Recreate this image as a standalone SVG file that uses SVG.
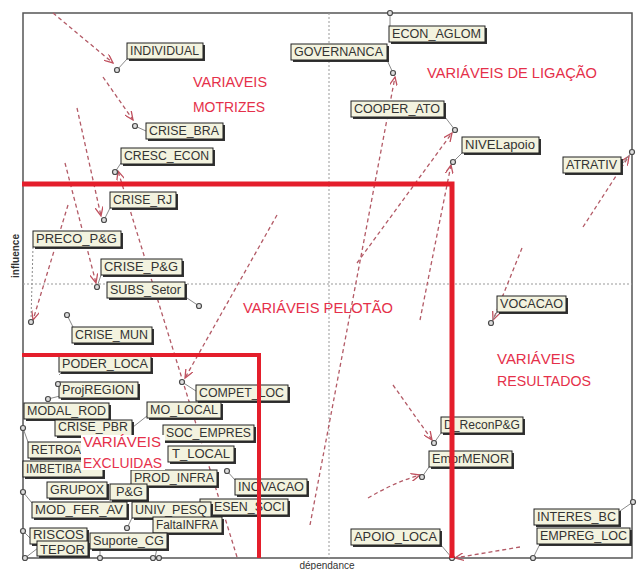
<svg xmlns="http://www.w3.org/2000/svg" width="640" height="570" viewBox="0 0 640 570">
<defs>
<marker id="arr" viewBox="0 0 10 8" refX="9" refY="4" markerWidth="10" markerHeight="8" markerUnits="userSpaceOnUse" orient="auto">
<path d="M0,0 L9,4 L0,8" fill="none" stroke="#c0505e" stroke-width="1.3"/>
</marker>
<style>
.frame{fill:none;stroke:#555;stroke-width:1.5}
.axis{stroke:#999;stroke-width:1;stroke-dasharray:2,2}
.red{stroke:#e41e2b;fill:none}
.con{fill:none;stroke:#b35a66;stroke-width:1.3;stroke-dasharray:4,3;marker-end:url(#arr)}
.lead{stroke:#8a8a8a;stroke-width:1}
.sh{fill:#333}
.bx{fill:#f3f3df;stroke:#222;stroke-width:1}
.lb{font-family:"Liberation Sans",Arial,sans-serif;font-size:12px;fill:#333}
.pt{fill:#ddd;stroke:#4a4a4a;stroke-width:1.2}
.rl{font-family:"Liberation Sans",Arial,sans-serif;font-size:14px;fill:#e5304a}
.ax{font-family:"Liberation Sans",Arial,sans-serif;font-size:10px;fill:#333}
</style>
</defs>
<rect width="640" height="570" fill="#fff"/>
<rect class="frame" x="23" y="13" width="609" height="545"/>
<line class="axis" x1="329" y1="13" x2="329" y2="558"/>
<line class="axis" x1="23" y1="284" x2="632" y2="284"/>

<g id="connectors">
<path class="con" d="M53,13 L113,63"/>
<path class="con" d="M103,77 L133,120"/>
<path class="con" d="M77,108 L101,216"/>
<path class="con" d="M65,163 L96,283"/>
<path class="con" d="M237,557 L118,171"/>
<path class="con" d="M277,215 L185,378"/>
<path class="con" d="M68,205 L33,320"/>
<path class="con" d="M310,525 L395,77"/>
<path class="con" d="M357,263 L452,133"/>
<path class="con" d="M420,320 L451,165"/>
<path class="con" d="M583,227 L629,156"/>
<path class="con" d="M522,248 L493,320"/>
<path class="con" d="M393,385 L432,440"/>
<path class="con" d="M368,498 Q395,482 420,475"/>
<path class="con" d="M520,547 L455,558"/>
<line class="lead" x1="33" y1="247" x2="31" y2="320" stroke-dasharray="2,2"/>
</g>

<g id="n-INDIVIDUAL"><line class="lead" x1="117" y1="70" x2="127" y2="59"/><rect class="sh" x="129" y="45" width="76" height="16"/><rect class="bx" x="127" y="43" width="76" height="16"/><text class="lb" x="130" y="55" textLength="69" lengthAdjust="spacingAndGlyphs">INDIVIDUAL</text><circle class="pt" cx="117" cy="70" r="2.5"/></g>
<g id="n-CRISE_BRA"><line class="lead" x1="135" y1="126" x2="146" y2="131"/><rect class="sh" x="148" y="125" width="77" height="16"/><rect class="bx" x="146" y="123" width="77" height="16"/><text class="lb" x="149" y="135" textLength="70" lengthAdjust="spacingAndGlyphs">CRISE_BRA</text><circle class="pt" cx="135" cy="126" r="2.5"/></g>
<g id="n-CRESC_ECON"><line class="lead" x1="115" y1="172" x2="121" y2="163"/><rect class="sh" x="123" y="150" width="92" height="16"/><rect class="bx" x="121" y="148" width="92" height="16"/><text class="lb" x="124" y="160" textLength="85" lengthAdjust="spacingAndGlyphs">CRESC_ECON</text><circle class="pt" cx="115" cy="172" r="2.5"/></g>
<g id="n-GOVERNANCA"><line class="lead" x1="393" y1="73" x2="387" y2="60"/><rect class="sh" x="293" y="46" width="96" height="16"/><rect class="bx" x="291" y="44" width="96" height="16"/><text class="lb" x="294" y="56" textLength="89" lengthAdjust="spacingAndGlyphs">GOVERNANCA</text><circle class="pt" cx="393" cy="73" r="2.5"/></g>
<g id="n-ECON_AGLOM"><line class="lead" x1="390" y1="13" x2="390" y2="26"/><rect class="sh" x="391" y="28" width="96" height="16"/><rect class="bx" x="389" y="26" width="96" height="16"/><text class="lb" x="392" y="38" textLength="89" lengthAdjust="spacingAndGlyphs">ECON_AGLOM</text><circle class="pt" cx="390" cy="13" r="2.5"/></g>
<g id="n-COOPER_ATO"><line class="lead" x1="455" y1="130" x2="445" y2="117"/><rect class="sh" x="353" y="103" width="93" height="16"/><rect class="bx" x="351" y="101" width="93" height="16"/><text class="lb" x="354" y="113" textLength="86" lengthAdjust="spacingAndGlyphs">COOPER_ATO</text><circle class="pt" cx="455" cy="130" r="2.5"/></g>
<g id="n-NIVELapoio"><line class="lead" x1="453" y1="162" x2="462" y2="153"/><rect class="sh" x="464" y="139" width="77" height="16"/><rect class="bx" x="462" y="137" width="77" height="16"/><text class="lb" x="465" y="149" textLength="70" lengthAdjust="spacingAndGlyphs">NIVELapoio</text><circle class="pt" cx="453" cy="162" r="2.5"/></g>
<g id="n-ATRATIV"><line class="lead" x1="632" y1="152" x2="622" y2="164"/><rect class="sh" x="565" y="159" width="58" height="16"/><rect class="bx" x="563" y="157" width="58" height="16"/><text class="lb" x="566" y="169" textLength="51" lengthAdjust="spacingAndGlyphs">ATRATIV</text><circle class="pt" cx="632" cy="152" r="2.5"/></g>
<g id="n-CRISE_RJ"><line class="lead" x1="104" y1="220" x2="110" y2="208"/><rect class="sh" x="112" y="194" width="66" height="16"/><rect class="bx" x="110" y="192" width="66" height="16"/><text class="lb" x="113" y="204" textLength="59" lengthAdjust="spacingAndGlyphs">CRISE_RJ</text><circle class="pt" cx="104" cy="220" r="2.5"/></g>
<g id="n-PRECO_PG"><rect class="sh" x="35" y="233" width="88" height="16"/><rect class="bx" x="33" y="231" width="88" height="16"/><text class="lb" x="36" y="243" textLength="81" lengthAdjust="spacingAndGlyphs">PRECO_P&amp;G</text><circle class="pt" cx="31" cy="322" r="2.5"/></g>
<g id="n-CRISE_PG"><line class="lead" x1="97" y1="287" x2="101" y2="275"/><rect class="sh" x="103" y="261" width="81" height="16"/><rect class="bx" x="101" y="259" width="81" height="16"/><text class="lb" x="104" y="271" textLength="74" lengthAdjust="spacingAndGlyphs">CRISE_P&amp;G</text><circle class="pt" cx="97" cy="287" r="2.5"/></g>
<g id="n-SUBS_Setor"><line class="lead" x1="199" y1="306" x2="187" y2="298"/><rect class="sh" x="109" y="284" width="78" height="16"/><rect class="bx" x="107" y="282" width="78" height="16"/><text class="lb" x="110" y="294" textLength="71" lengthAdjust="spacingAndGlyphs">SUBS_Setor</text><circle class="pt" cx="199" cy="306" r="2.5"/></g>
<g id="n-CRISE_MUN"><line class="lead" x1="67" y1="315" x2="73" y2="327"/><rect class="sh" x="74" y="329" width="80" height="16"/><rect class="bx" x="72" y="327" width="80" height="16"/><text class="lb" x="75" y="339" textLength="73" lengthAdjust="spacingAndGlyphs">CRISE_MUN</text><circle class="pt" cx="67" cy="315" r="2.5"/></g>
<g id="n-PODER_LOCA"><line class="lead" x1="59" y1="375" x2="62" y2="372"/><rect class="sh" x="61" y="358" width="92" height="16"/><rect class="bx" x="59" y="356" width="92" height="16"/><text class="lb" x="62" y="368" textLength="86" lengthAdjust="spacingAndGlyphs">PODER_LOCA</text></g>
<g id="n-ProjREGION"><line class="lead" x1="48" y1="399" x2="60" y2="396"/><rect class="sh" x="61" y="384" width="79" height="16"/><rect class="bx" x="59" y="382" width="79" height="16"/><text class="lb" x="62" y="394" textLength="72" lengthAdjust="spacingAndGlyphs">ProjREGION</text><circle class="pt" cx="58" cy="384" r="2.5"/><circle class="pt" cx="48" cy="399" r="2.5"/></g>
<g id="n-MODAL_ROD"><rect class="sh" x="26" y="405" width="85" height="16"/><rect class="bx" x="24" y="403" width="85" height="16"/><text class="lb" x="27" y="415" textLength="79" lengthAdjust="spacingAndGlyphs">MODAL_ROD</text></g>
<g id="n-MO_LOCAL"><line class="lead" x1="133" y1="427" x2="147" y2="416"/><rect class="sh" x="149" y="404" width="74" height="16"/><rect class="bx" x="147" y="402" width="74" height="16"/><text class="lb" x="150" y="414" textLength="68" lengthAdjust="spacingAndGlyphs">MO_LOCAL</text></g>
<g id="n-COMPET_LOC"><line class="lead" x1="182" y1="382" x2="196" y2="391"/><rect class="sh" x="198" y="387" width="92" height="16"/><rect class="bx" x="196" y="385" width="92" height="16"/><text class="lb" x="199" y="397" textLength="85" lengthAdjust="spacingAndGlyphs">COMPET_LOC</text><circle class="pt" cx="182" cy="382" r="2.5"/></g>
<g id="n-CRISE_PBR"><line class="lead" x1="23" y1="428" x2="28" y2="442"/><rect class="sh" x="57" y="422" width="77" height="16"/><rect class="bx" x="55" y="420" width="77" height="16"/><text class="lb" x="58" y="431" textLength="70" lengthAdjust="spacingAndGlyphs">CRISE_PBR</text><circle class="pt" cx="23" cy="428" r="2.5"/></g>
<g id="n-SOC_EMPRES"><rect class="sh" x="165" y="427" width="91" height="16"/><rect class="bx" x="163" y="425" width="91" height="16"/><text class="lb" x="166" y="437" textLength="85" lengthAdjust="spacingAndGlyphs">SOC_EMPRES</text></g>
<g id="n-RETROA"><rect class="sh" x="30" y="444" width="80" height="16"/><rect class="bx" x="28" y="442" width="80" height="16"/><text class="lb" x="31" y="454" textLength="50" lengthAdjust="spacingAndGlyphs">RETROA</text></g>
<g id="n-T_LOCAL"><rect class="sh" x="170" y="448" width="66" height="16"/><rect class="bx" x="168" y="446" width="66" height="16"/><text class="lb" x="172" y="458" textLength="58" lengthAdjust="spacingAndGlyphs">T_LOCAL</text></g>
<g id="n-IMBETIBA"><rect class="sh" x="25" y="463" width="80" height="16"/><rect class="bx" x="23" y="461" width="80" height="16"/><text class="lb" x="26" y="473" textLength="55" lengthAdjust="spacingAndGlyphs">IMBETIBA</text></g>
<g id="n-PROD_INFRA"><rect class="sh" x="133" y="472" width="86" height="16"/><rect class="bx" x="131" y="470" width="86" height="16"/><text class="lb" x="134" y="482" textLength="80" lengthAdjust="spacingAndGlyphs">PROD_INFRA</text></g>
<g id="n-INOVACAO"><line class="lead" x1="227" y1="471" x2="235" y2="480"/><rect class="sh" x="237" y="481" width="72" height="16"/><rect class="bx" x="235" y="479" width="72" height="16"/><text class="lb" x="238" y="491" textLength="66" lengthAdjust="spacingAndGlyphs">INOVACAO</text><circle class="pt" cx="227" cy="471" r="2.5"/></g>
<g id="n-GRUPOX"><line class="lead" x1="23" y1="492" x2="32" y2="503"/><rect class="sh" x="49" y="484" width="60" height="16"/><rect class="bx" x="47" y="482" width="60" height="16"/><text class="lb" x="50" y="494" textLength="54" lengthAdjust="spacingAndGlyphs">GRUPOX</text><circle class="pt" cx="23" cy="492" r="2.5"/></g>
<g id="n-PG"><rect class="sh" x="112" y="486" width="37" height="16"/><rect class="bx" x="110" y="484" width="37" height="16"/><text class="lb" x="116" y="496" textLength="27" lengthAdjust="spacingAndGlyphs">P&amp;G</text></g>
<g id="n-DESEN_SOCI"><rect class="sh" x="202" y="501" width="88" height="16"/><rect class="bx" x="200" y="499" width="88" height="16"/><text class="lb" x="214" y="511" textLength="71" lengthAdjust="spacingAndGlyphs">ESEN_SOCI</text></g>
<g id="n-MOD_FER_AV"><line class="lead" x1="23" y1="531" x2="32" y2="540"/><rect class="sh" x="34" y="504" width="95" height="16"/><rect class="bx" x="32" y="502" width="95" height="16"/><text class="lb" x="35" y="514" textLength="88" lengthAdjust="spacingAndGlyphs">MOD_FER_AV</text><circle class="pt" cx="23" cy="531" r="2.5"/></g>
<g id="n-UNIV_PESQ"><line class="lead" x1="127" y1="528" x2="132" y2="518"/><rect class="sh" x="134" y="504" width="79" height="16"/><rect class="bx" x="132" y="502" width="79" height="16"/><text class="lb" x="135" y="514" textLength="72" lengthAdjust="spacingAndGlyphs">UNIV_PESQ</text><circle class="pt" cx="127" cy="528" r="2.5"/></g>
<g id="n-FaltaINFRA"><line class="lead" x1="155" y1="558" x2="160" y2="533"/><rect class="sh" x="155" y="519" width="69" height="16"/><rect class="bx" x="153" y="517" width="69" height="16"/><text class="lb" x="156" y="529" textLength="62" lengthAdjust="spacingAndGlyphs">FaltaINFRA</text><circle class="pt" cx="153" cy="558" r="2.5"/><circle class="pt" cx="159" cy="558" r="2.5"/></g>
<g id="n-Suporte_CG"><line class="lead" x1="100" y1="558" x2="100" y2="549"/><rect class="sh" x="92" y="535" width="77" height="16"/><rect class="bx" x="90" y="533" width="77" height="16"/><text class="lb" x="93" y="545" textLength="71" lengthAdjust="spacingAndGlyphs">Suporte_CG</text><circle class="pt" cx="100" cy="558" r="2.5"/></g>
<g id="n-RISCOS"><rect class="sh" x="32" y="530" width="57" height="16"/><rect class="bx" x="30" y="528" width="57" height="16"/><text class="lb" x="33" y="539" font-size="11" textLength="51" lengthAdjust="spacingAndGlyphs">RISCOS</text></g>
<g id="n-TEPOR"><line class="lead" x1="25" y1="558" x2="38" y2="548"/><rect class="sh" x="39" y="543" width="51" height="15"/><rect class="bx" x="37" y="541" width="51" height="15"/><text class="lb" x="40" y="554" textLength="45" lengthAdjust="spacingAndGlyphs">TEPOR</text><circle class="pt" cx="25" cy="558" r="2.5"/></g>
<g id="n-VOCACAO"><line class="lead" x1="491" y1="323" x2="497" y2="312"/><rect class="sh" x="499" y="298" width="69" height="16"/><rect class="bx" x="497" y="296" width="69" height="16"/><text class="lb" x="500" y="308" textLength="63" lengthAdjust="spacingAndGlyphs">VOCACAO</text><circle class="pt" cx="491" cy="323" r="2.5"/></g>
<g id="n-D_ReconPG"><line class="lead" x1="434" y1="443" x2="441" y2="433"/><rect class="sh" x="443" y="419" width="82" height="16"/><rect class="bx" x="441" y="417" width="82" height="16"/><text class="lb" x="444" y="429" textLength="76" lengthAdjust="spacingAndGlyphs">D_ReconP&amp;G</text><circle class="pt" cx="434" cy="443" r="2.5"/></g>
<g id="n-EmprMENOR"><line class="lead" x1="422" y1="477" x2="429" y2="467"/><rect class="sh" x="431" y="453" width="83" height="16"/><rect class="bx" x="429" y="451" width="83" height="16"/><text class="lb" x="432" y="463" textLength="77" lengthAdjust="spacingAndGlyphs">EmprMENOR</text><circle class="pt" cx="422" cy="477" r="2.5"/></g>
<g id="n-APOIO_LOCA"><line class="lead" x1="452" y1="558" x2="441" y2="545"/><rect class="sh" x="353" y="531" width="89" height="16"/><rect class="bx" x="351" y="529" width="89" height="16"/><text class="lb" x="354" y="541" textLength="83" lengthAdjust="spacingAndGlyphs">APOIO_LOCA</text><circle class="pt" cx="452" cy="558" r="2.5"/></g>
<g id="n-INTERES_BC"><line class="lead" x1="633" y1="502" x2="620" y2="511"/><rect class="sh" x="536" y="511" width="85" height="16"/><rect class="bx" x="534" y="509" width="85" height="16"/><text class="lb" x="537" y="521" textLength="79" lengthAdjust="spacingAndGlyphs">INTERES_BC</text><circle class="pt" cx="633" cy="502" r="2.5"/></g>
<g id="n-EMPREG_LOC"><line class="lead" x1="533" y1="558" x2="540" y2="544"/><rect class="sh" x="539" y="530" width="93" height="16"/><rect class="bx" x="537" y="528" width="93" height="16"/><text class="lb" x="540" y="540" textLength="87" lengthAdjust="spacingAndGlyphs">EMPREG_LOC</text><circle class="pt" cx="533" cy="558" r="2.5"/></g>

<g id="red-lines">
<path class="red" stroke-width="5" d="M22,184 L452,184 L452,558"/>
<path class="red" stroke-width="4" d="M22,355 L259,355 L259,558"/>
</g>

<g id="labels">
<text class="rl" x="193" y="87" textLength="74" lengthAdjust="spacingAndGlyphs">VARIAVEIS</text>
<text class="rl" x="193" y="112" textLength="72" lengthAdjust="spacingAndGlyphs">MOTRIZES</text>
<text class="rl" x="427" y="78" textLength="170" lengthAdjust="spacingAndGlyphs">VARIÁVEIS DE LIGAÇÃO</text>
<text class="rl" x="243" y="313" textLength="150" lengthAdjust="spacingAndGlyphs">VARIÁVEIS PELOTÃO</text>
<text class="rl" x="497" y="364" textLength="78" lengthAdjust="spacingAndGlyphs">VARIÁVEIS</text>
<text class="rl" x="497" y="386" textLength="94" lengthAdjust="spacingAndGlyphs">RESULTADOS</text>
<rect x="81" y="435" width="84" height="35" fill="#fff"/>
<text class="rl" x="83" y="447" textLength="78" lengthAdjust="spacingAndGlyphs">VARIÁVEIS</text>
<text class="rl" x="83" y="468" textLength="79" lengthAdjust="spacingAndGlyphs">EXCLUIDAS</text>
<text class="ax" transform="translate(19,256) rotate(-90)" text-anchor="middle" font-weight="bold">influence</text>
<text class="ax" x="327" y="569" text-anchor="middle">dépendance</text>
</g>
</svg>
